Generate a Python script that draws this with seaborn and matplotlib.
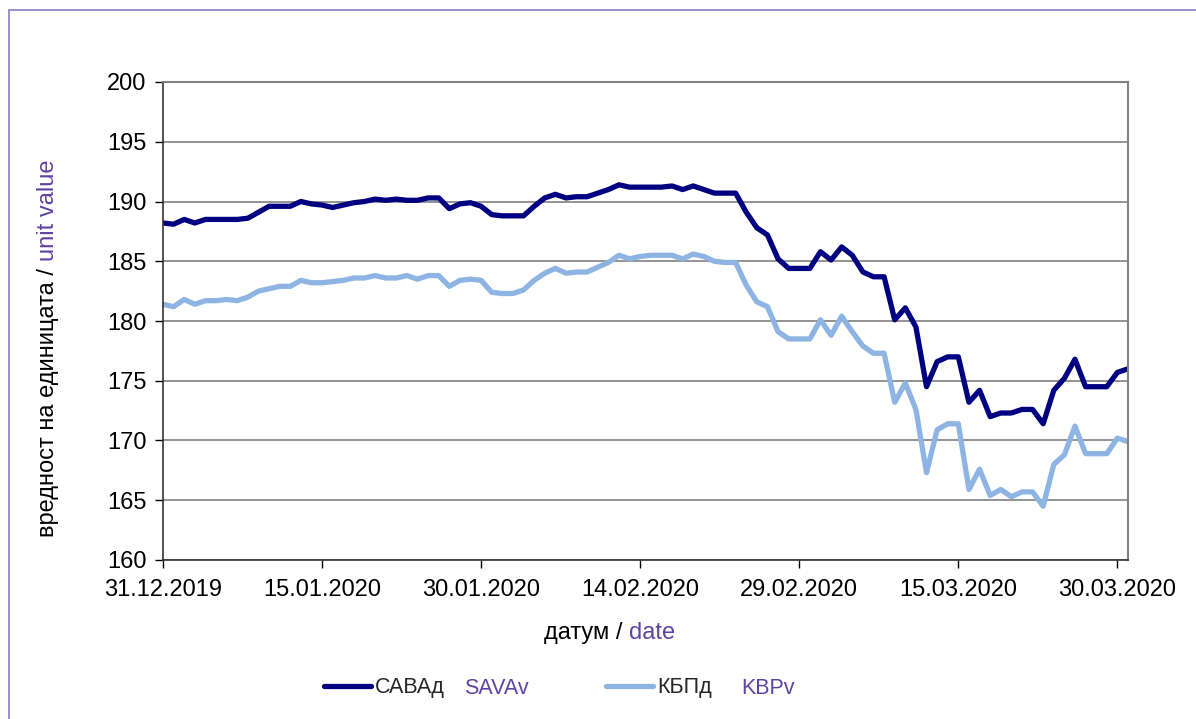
import numpy as np
import pandas as pd
import matplotlib
matplotlib.use('Agg')
import matplotlib.pyplot as plt
import matplotlib.dates as mdates
from matplotlib.lines import Line2D
import seaborn as sns

# daily unit values, 31.12.2019 - 31.03.2020
dates = pd.date_range('2019-12-31', '2020-03-31', freq='D')

sava = [188.2, 188.1, 188.5, 188.2, 188.5, 188.5, 188.5, 188.5, 188.6, 189.1,
        189.6, 189.6, 189.6, 190.0, 189.8, 189.7, 189.5, 189.7, 189.9, 190.0,
        190.2, 190.1, 190.2, 190.1, 190.1, 190.3, 190.3, 189.4, 189.8, 189.9,
        189.6, 188.9, 188.8, 188.8, 188.8, 189.6, 190.3, 190.6, 190.3, 190.4,
        190.4, 190.7, 191.0, 191.4, 191.2, 191.2, 191.2, 191.2, 191.3, 191.0,
        191.3, 191.0, 190.7, 190.7, 190.7, 189.1, 187.8, 187.2, 185.2, 184.4,
        184.4, 184.4, 185.8, 185.1, 186.2, 185.5, 184.1, 183.7, 183.7, 180.1,
        181.1, 179.5, 174.5, 176.6, 177.0, 177.0, 173.2, 174.2, 172.0, 172.3,
        172.3, 172.6, 172.6, 171.4, 174.2, 175.2, 176.8, 174.5, 174.5, 174.5,
        175.7, 176.0]

kbp = [181.4, 181.2, 181.8, 181.4, 181.7, 181.7, 181.8, 181.7, 182.0, 182.5,
       182.7, 182.9, 182.9, 183.4, 183.2, 183.2, 183.3, 183.4, 183.6, 183.6,
       183.8, 183.6, 183.6, 183.8, 183.5, 183.8, 183.8, 182.9, 183.4, 183.5,
       183.4, 182.4, 182.3, 182.3, 182.6, 183.4, 184.0, 184.4, 184.0, 184.1,
       184.1, 184.5, 184.9, 185.5, 185.2, 185.4, 185.5, 185.5, 185.5, 185.2,
       185.6, 185.4, 185.0, 184.9, 184.9, 183.0, 181.6, 181.2, 179.1, 178.5,
       178.5, 178.5, 180.1, 178.8, 180.4, 179.1, 177.9, 177.3, 177.3, 173.2,
       174.8, 172.6, 167.3, 170.9, 171.4, 171.4, 165.9, 167.6, 165.4, 165.9,
       165.3, 165.7, 165.7, 164.5, 168.0, 168.8, 171.2, 168.9, 168.9, 168.9,
       170.2, 169.9]

series_mk = ['САВАд', 'КБПд']
series_en = ['SAVAv', 'KBPv']
colors = ['#000080', '#8DB4E2']
purple = '#5F43A0'
FS = 17
LEG_FS = 15.5

df = pd.DataFrame({'датум': dates, 'САВАд': sava, 'КБПд': kbp})
df = df.melt(id_vars='датум', var_name='фонд', value_name='вредност')

sns.set_theme(style='white')
plt.rcParams['font.family'] = ['Liberation Sans', 'DejaVu Sans']

W, H = 1196, 719
fig = plt.figure(figsize=(W / 100, H / 100), dpi=100)
ax = fig.add_axes([163 / W, 1 - 560 / H, (1128 - 163) / W, (560 - 82) / H])

sns.lineplot(data=df, x='датум', y='вредност', hue='фонд', hue_order=series_mk,
             palette=colors, linewidth=3.8, legend=False, ax=ax)

ax.set_ylim(160, 200)
ax.set_yticks(np.arange(160, 201, 5))
ax.set_xlim(dates[0], dates[-1])
ax.set_xticks(pd.date_range('2019-12-31', periods=7, freq='15D'))
ax.xaxis.set_major_formatter(mdates.DateFormatter('%d.%m.%Y'))
ax.grid(axis='y', color='#808080', lw=1.2)
ax.set_axisbelow(True)
ax.tick_params(bottom=True, left=True, direction='out', length=6, width=1,
               color='black', labelsize=FS, labelcolor='black')
ax.tick_params(axis='x', pad=8)
ax.tick_params(axis='y', pad=6)
ax.set_xlabel('')
ax.set_ylabel('')
for side in ['top', 'right']:
    ax.spines[side].set_color('#808080')
    ax.spines[side].set_linewidth(1.5)
for side in ['left', 'bottom']:
    ax.spines[side].set_color('#333333')
    ax.spines[side].set_linewidth(1.2)

# axis titles, two colours each
yl = fig.text(48 / W, 1 - 537 / H, 'вредност на единицата /', rotation=90,
              ha='center', va='bottom', fontsize=FS, color='black')
fig.add_artist(plt.Annotation('unit value', xy=(0.5, 1), xycoords=yl,
                              xytext=(0, 5), textcoords='offset points',
                              rotation=90, ha='center', va='bottom',
                              fontsize=FS, color=purple, zorder=10))

xl = fig.text(622 / W, 1 - 633 / H, 'датум /', ha='right', va='center',
              fontsize=FS, color='black')
fig.add_artist(plt.Annotation('date', xy=(1, 0), xycoords=xl,
                              xytext=(5, 0), textcoords='offset points',
                              ha='left', va='bottom', fontsize=FS,
                              color=purple, zorder=10))

# legend
handles = [Line2D([], [], color=c, lw=3.8) for c in colors]
leg = fig.legend(handles, series_mk, loc='center',
                 bbox_to_anchor=(518 / W, 1 - 688 / H), ncol=2, frameon=False,
                 fontsize=LEG_FS, handlelength=2.18, handletextpad=0.19,
                 columnspacing=7.5)
for txt, label, gap in zip(leg.get_texts(), series_en, [14, 21]):
    fig.add_artist(plt.Annotation(label, xy=(1, 0), xycoords=txt,
                                  xytext=(gap, 0), textcoords='offset points',
                                  ha='left', va='bottom', fontsize=LEG_FS,
                                  color=purple, zorder=10))

# outer chart frame
fig.add_artist(Line2D([9 / W, 9 / W], [0, 1 - 10 / H], color='#8B7BC8', lw=1.2))
fig.add_artist(Line2D([9 / W, 1], [1 - 10 / H, 1 - 10 / H], color='#8B7BC8', lw=1.2))

fig.savefig('out.png', dpi=100)
